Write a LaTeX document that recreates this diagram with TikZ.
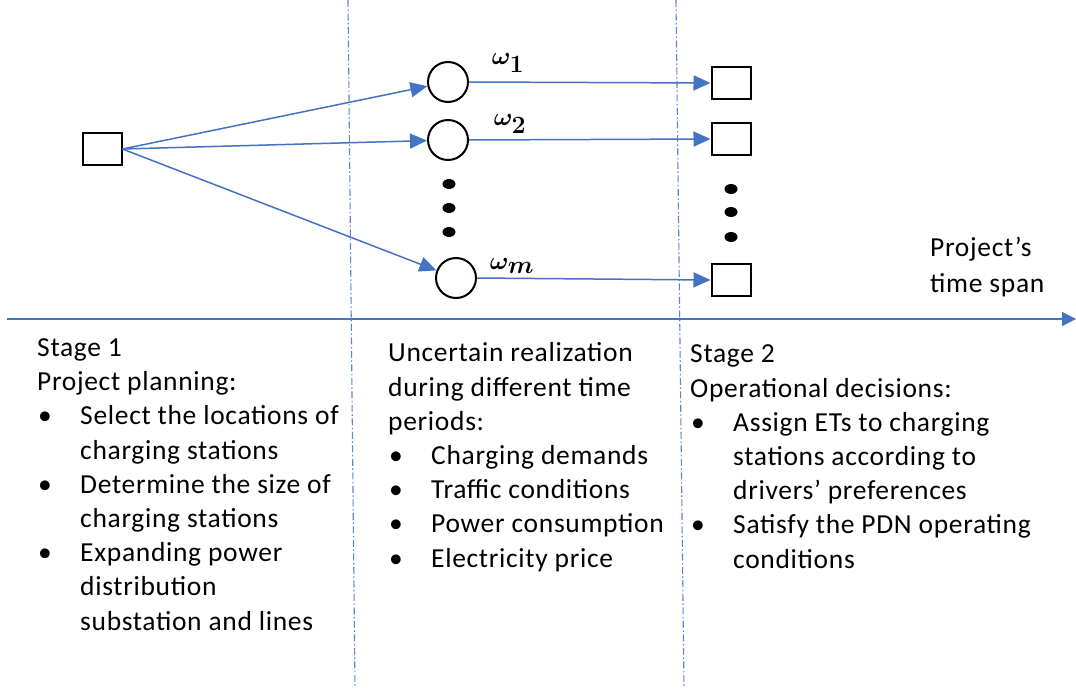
\documentclass[tikz,border=0pt]{standalone}
\usepackage{fontspec}
\setmainfont{Carlito}[LetterSpace=2.5]
\usetikzlibrary{arrows.meta}
\definecolor{lineblue}{RGB}{68,114,196}
\definecolor{sepblue}{RGB}{91,134,208}
\newcommand\itm{\makebox[43pt][l]{\hspace{1pt}\textbullet}}
\newcommand\ind{\hspace*{43pt}}
\begin{document}
\begin{tikzpicture}[x=1pt,y=-1pt,
  flow/.style={draw=lineblue, line width=1.5pt, -{Triangle[length=17pt,width=15pt]}},
  axisline/.style={draw=lineblue, line width=1.5pt, -{Triangle[length=14pt,width=14pt]}},
  sep/.style={draw=sepblue, line width=1.1pt, dash pattern=on 7pt off 2.5pt on 1.5pt off 2.5pt},
  decision/.style={draw=black, line width=2pt, minimum width=39pt, minimum height=32pt, inner sep=0pt},
  chance/.style={draw=black, line width=2pt, circle, minimum size=40pt, inner sep=0pt},
  scen/.style={font=\fontsize{35}{35}\selectfont\boldmath, inner sep=0pt},
  txt/.style={font=\fontsize{27.5}{34.2}\selectfont, align=left, inner sep=0pt, anchor=base west}
]
\useasboundingbox[fill=white] (0,0) rectangle (1076,688);

% separators between the phases
\draw[sep] (348,0) -- (355,688);
\draw[sep] (676,0) -- (684,688);

% first-stage decision
\node[decision] (s0) at (102,149) {};

% scenario nodes
\node[chance] (c1) at (448,82) {};
\node[chance] (c2) at (448,140) {};
\node[chance] (cm) at (456,278) {};

% second-stage decisions
\node[decision] (r1) at (731,83) {};
\node[decision] (r2) at (731,139) {};
\node[decision] (rm) at (731,280) {};

% ellipsis dots
\foreach \y in {184,208,232} \fill (449,\y) ellipse [x radius=6.5, y radius=5];
\foreach \y in {189,212,237} \fill (731,\y) ellipse [x radius=6.5, y radius=5];

% connectors
\draw[flow] (s0.east) -- (c1);
\draw[flow] (s0.east) -- (c2);
\draw[flow] (s0.east) -- (cm);
\draw[flow] (c1.east) -- (r1.west);
\draw[flow] (c2.east) -- (r2.west);
\draw[flow] (cm.east) -- (rm.west);

% scenario labels
\node[scen] (w1) at (508,63) {$\omega_1$};
\node[scen] (w2) at (510,124) {$\omega_2$};
\node[scen] (wm) at (512,266) {$\omega_m$};

% time axis
\coordinate (axL) at (7,319);
\coordinate (axR) at (1076,319);
\draw[axisline] (axL) -- (axR);
\node[txt, font=\fontsize{27.5}{36}\selectfont] (span) at (930,292) {Project’s\\time span};

% phase descriptions (nodes are placed by the baseline of their last line)
\node[txt] (stage1) at (37,630) {Stage 1\\
Project planning:\\
\itm Select the locations of\\
\ind charging stations\\
\itm Determine the size of\\
\ind charging stations\\
\itm Expanding power\\
\ind distribution\\
\ind substation and lines};

\node[txt] (mid) at (388,567) {Uncertain realization\\
during different time\\
periods:\\
\itm Charging demands\\
\itm Traffic conditions\\
\itm Power consumption\\
\itm Electricity price};

\node[txt] (stage2) at (690,568) {Stage 2\\
Operational decisions:\\
\itm Assign ETs to charging\\
\ind stations according to\\
\ind drivers’ preferences\\
\itm Satisfy the PDN operating\\
\ind conditions};
\end{tikzpicture}
\end{document}
